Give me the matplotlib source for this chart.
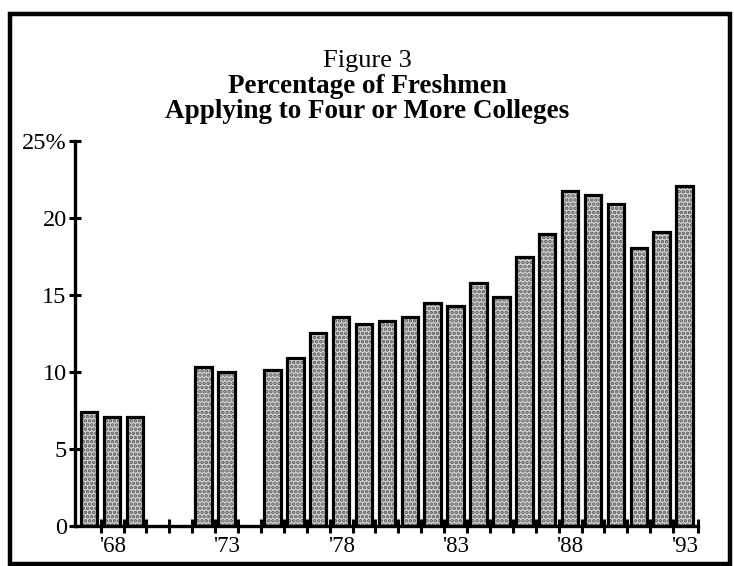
import matplotlib
matplotlib.use("Agg")
import matplotlib.pyplot as plt
from matplotlib.patches import Rectangle

years = [1967, 1968, 1969, 1972, 1973, 1975, 1976, 1977, 1978, 1979, 1980,
         1981, 1982, 1983, 1984, 1985, 1986, 1987, 1988, 1989, 1990, 1991,
         1992, 1993]
percent = [7.4, 7.05, 7.05, 10.3, 10.0, 10.1, 10.9, 12.55, 13.6, 13.1, 13.3,
           13.6, 14.45, 14.3, 15.8, 14.9, 17.45, 18.95, 21.75, 21.5, 20.9,
           18.05, 19.1, 22.05]
ytick_vals = [0, 5, 10, 15, 20, 25]
ytick_labels = ["0", "5", "10", "15", "20", "25%"]
xlabel_years = [1968, 1973, 1978, 1983, 1988, 1993]
xlabel_text = ["'68", "'73", "'78", "'83", "'88", "'93"]

plt.rcParams['font.family'] = ['Liberation Serif', 'DejaVu Serif']
plt.rcParams['hatch.linewidth'] = 1.8

W, H = 734, 566
fig = plt.figure(figsize=(W / 100, H / 100), dpi=100)
ax = fig.add_axes([0.1022, 0.0707, 0.8492, 0.6802])

# stippled fill
ax.bar(years, percent, width=0.72, color='#d8d8d8', edgecolor='#555555',
       hatch='....', linewidth=0, zorder=2)
# outlines
ax.bar(years, percent, width=0.72, fill=False, edgecolor='black',
       linewidth=2.3, zorder=3)

ax.set_xlim(1966.38, 1993.6)
ax.set_ylim(0, 25)

for s in ['top', 'right']:
    ax.spines[s].set_visible(False)
for s in ['left', 'bottom']:
    ax.spines[s].set_linewidth(2.4)
    ax.spines[s].set_zorder(4)

ax.set_yticks(ytick_vals)
ax.set_yticklabels(ytick_labels, fontsize=17.5)
ax.tick_params(axis='y', direction='inout', length=8, width=2.2, pad=2)

minor = [y + 0.5 for y in range(1967, 1993)] + [1993.6]
ax.set_xticks(minor, minor=True)
ax.set_xticks(xlabel_years)
ax.set_xticklabels(xlabel_text, fontsize=16.5)
ax.tick_params(axis='x', which='major', length=0, pad=7)
ax.tick_params(axis='x', which='minor', direction='inout', length=10,
               width=2.2)

fig.text(0.5, 1 - 61 / H, "Figure 3", ha='center', va='center', fontsize=19)
fig.text(0.5, 1 - 86.5 / H, "Percentage of Freshmen", ha='center',
         va='center', fontsize=19.5, fontweight='bold')
fig.text(0.5, 1 - 112 / H, "Applying to Four or More Colleges", ha='center',
         va='center', fontsize=19.5, fontweight='bold')

fig.patches.append(Rectangle((0.0143, 0.0035), 0.9803, 0.9718,
                             transform=fig.transFigure, fill=False,
                             edgecolor='black', linewidth=3.2))

fig.savefig("out.png", dpi=100)
